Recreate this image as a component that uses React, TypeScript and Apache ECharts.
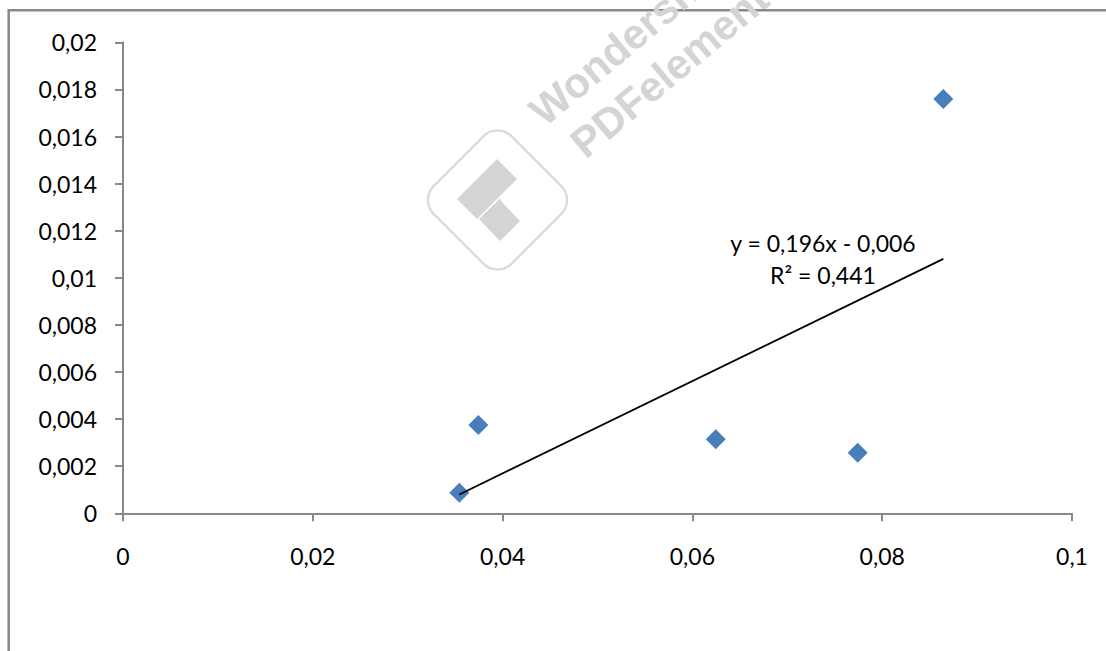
import { useEffect, useRef } from "react";
import * as echarts from "echarts";

// Measured pairs (x, y)
const xValues = [0.03544, 0.03744, 0.06246, 0.07742, 0.08644];
const yValues = [0.000875, 0.00375, 0.003142, 0.002573, 0.01759];

// Axis ranges and tick steps
const xRange = { min: 0, max: 0.1, interval: 0.02 };
const yRange = { min: 0, max: 0.02, interval: 0.002 };

// Trendline annotation and watermark text
const trendLabel = ["y = 0,196x - 0,006", "R² = 0,441"];
const watermarkLines = ["Wondershare", "PDFelement"];

const FONT = "Lato, 'Open Sans', sans-serif";
const AXIS_GRAY = "#898989";
const MARK_GRAY = "#d4d4d4";

// Decimal comma formatting, e.g. 0.004 -> "0,004"
const fmt = (v: number) => String(parseFloat(v.toFixed(4))).replace(".", ",");

// Ordinary least squares fit of y on x
function linearFit(xs: number[], ys: number[]) {
  const n = xs.length;
  const mx = xs.reduce((a, b) => a + b, 0) / n;
  const my = ys.reduce((a, b) => a + b, 0) / n;
  let sxy = 0;
  let sxx = 0;
  for (let i = 0; i < n; i++) {
    sxy += (xs[i] - mx) * (ys[i] - my);
    sxx += (xs[i] - mx) * (xs[i] - mx);
  }
  const slope = sxy / sxx;
  return { slope, intercept: my - slope * mx };
}

export default function App() {
  const ref = useRef<HTMLDivElement>(null);

  useEffect(() => {
    if (!ref.current) return;
    const chart = echarts.init(ref.current, undefined, { renderer: "svg" });

    const points = xValues.map((x, i) => [x, yValues[i]]);
    const { slope, intercept } = linearFit(xValues, yValues);
    const xLo = Math.min(...xValues);
    const xHi = Math.max(...xValues);
    const trend = [
      [xLo, intercept + slope * xLo],
      [xHi, intercept + slope * xHi],
    ];

    const axisCommon = {
      type: "value" as const,
      splitLine: { show: false },
      axisLine: { show: true, onZero: false, lineStyle: { color: AXIS_GRAY, width: 2 } },
      axisTick: { show: true, length: 8, lineStyle: { color: AXIS_GRAY, width: 2 } },
    };

    const watermarkText = (text: string, x: number, y: number) => ({
      type: "text",
      silent: true,
      x,
      y,
      rotation: (40 * Math.PI) / 180,
      z: 100,
      style: {
        text,
        align: "center",
        verticalAlign: "middle",
        fontSize: 42,
        fontWeight: "bold",
        fontFamily: "'Liberation Sans', Arial, sans-serif",
        fill: MARK_GRAY,
      },
    });

    chart.setOption({
      animation: false,
      backgroundColor: "#ffffff",
      textStyle: { fontFamily: FONT },
      grid: { left: 123, right: 34, top: 42.3, bottom: 137.7 },
      xAxis: {
        ...axisCommon,
        ...xRange,
        axisLabel: { color: "#000", fontSize: 23, fontFamily: FONT, margin: 31, formatter: fmt },
      },
      yAxis: {
        ...axisCommon,
        ...yRange,
        axisLabel: { color: "#000", fontSize: 23, fontFamily: FONT, margin: 26, formatter: fmt },
      },
      series: [
        {
          type: "scatter",
          data: points,
          symbol: "diamond",
          symbolSize: 20,
          itemStyle: { color: "#4a7ebb", opacity: 1 },
          z: 2,
        },
        {
          type: "line",
          data: trend,
          symbol: "none",
          lineStyle: { color: "#000", width: 1.8 },
          z: 3,
        },
      ],
      graphic: [
        // chart frame
        {
          type: "rect",
          silent: true,
          shape: { x: 8.7, y: 10.3, width: 1200, height: 800 },
          style: { fill: "none", stroke: "#888888", lineWidth: 2.5 },
          z: 1,
        },
        // trendline equation
        {
          type: "text",
          silent: true,
          style: {
            text: trendLabel.join("\n"),
            x: 823,
            y: 259,
            align: "center",
            verticalAlign: "middle",
            lineHeight: 32,
            fontSize: 23,
            fontFamily: FONT,
            fill: "#000",
          },
          z: 10,
        },
        // watermark logo
        {
          type: "group",
          silent: true,
          x: 497.5,
          y: 200,
          rotation: Math.PI / 4,
          z: 100,
          children: [
            {
              type: "rect",
              shape: { x: -55, y: -55, width: 110, height: 110, r: 20 },
              style: { fill: "none", stroke: "#dcdcdc", lineWidth: 2.5 },
            },
          ],
        },
        {
          type: "polygon",
          silent: true,
          z: 100,
          shape: { points: [[457, 199], [497, 159], [517, 179], [477, 219]] },
          style: { fill: MARK_GRAY },
        },
        {
          type: "polygon",
          silent: true,
          z: 100,
          shape: { points: [[479, 219], [500, 198.5], [503, 203], [520, 221], [500, 241]] },
          style: { fill: MARK_GRAY },
        },
        watermarkText(watermarkLines[0], 638, 30.5),
        watermarkText(watermarkLines[1], 669.5, 70.7),
      ],
    });

    return () => chart.dispose();
  }, []);

  return (
    <div
      ref={ref}
      style={{ position: "fixed", left: 0, top: 0, width: 1106, height: 651 }}
    />
  );
}
